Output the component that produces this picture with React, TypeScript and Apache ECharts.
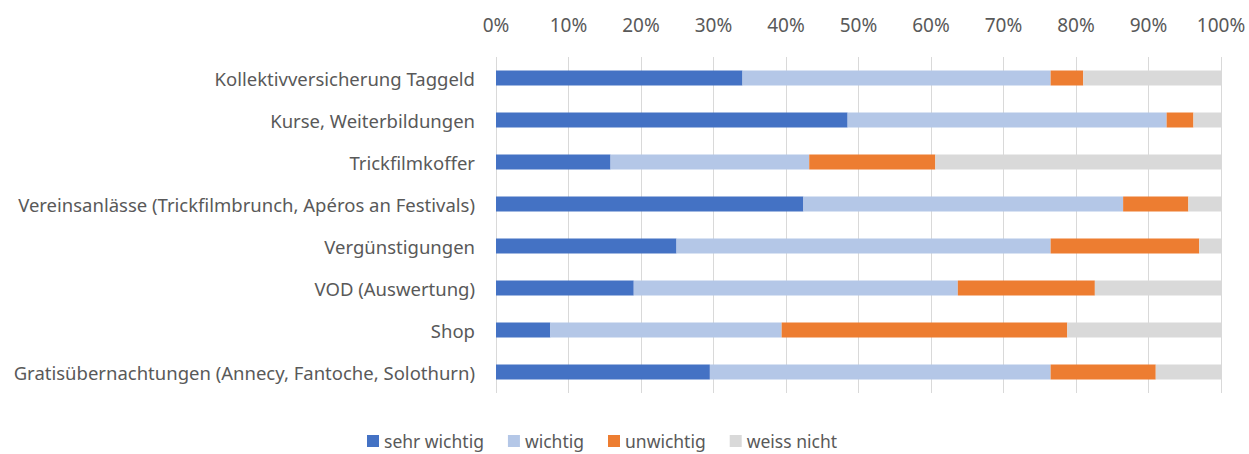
import React, { useEffect, useRef } from "react";
import * as echarts from "echarts";

const categories = [
  "Kollektivversicherung Taggeld",
  "Kurse, Weiterbildungen",
  "Trickfilmkoffer",
  "Vereinsanlässe (Trickfilmbrunch, Apéros an Festivals)",
  "Vergünstigungen",
  "VOD (Auswertung)",
  "Shop",
  "Gratisübernachtungen (Annecy, Fantoche, Solothurn)",
];
const sehrWichtig = [34.0, 48.5, 15.8, 42.4, 24.9, 19.0, 7.5, 29.5];
const wichtig = [42.5, 44.0, 27.4, 44.1, 51.6, 44.7, 31.9, 47.0];
const unwichtig = [4.5, 3.7, 17.4, 9.0, 20.5, 18.9, 39.4, 14.5];
const weissNicht = [19.0, 3.8, 39.4, 4.5, 3.0, 17.4, 21.2, 9.0];
const seriesNames = ["sehr wichtig", "wichtig", "unwichtig", "weiss nicht"];
const colors = ["#4472C4", "#B4C7E7", "#ED7D31", "#D9D9D9"];

const FONT = "Noto Sans";
const TEXT = "#595959";

export default function App() {
  const ref = useRef<HTMLDivElement>(null);
  useEffect(() => {
    document.body.style.margin = "0";
    const chart = echarts.init(ref.current!, null, { renderer: "svg" });
    const data = [sehrWichtig, wichtig, unwichtig, weissNicht];
    chart.setOption({
      animation: false,
      textStyle: { fontFamily: FONT },
      grid: { left: 496, right: 28, top: 57, bottom: 61, containLabel: false },
      legend: {
        left: 362,
        bottom: -1,
        itemWidth: 12,
        itemHeight: 12,
        itemGap: 24,
        icon: "rect",
        textStyle: { color: TEXT, fontSize: 17.5, fontFamily: FONT },
        data: seriesNames,
      },
      xAxis: {
        type: "value",
        position: "top",
        min: 0,
        max: 100,
        interval: 10,
        axisLine: { show: false },
        axisTick: { show: false },
        axisLabel: {
          color: TEXT,
          fontSize: 19,
          fontFamily: FONT,
          margin: 23,
          formatter: (v: number) => v + "%",
        },
        splitLine: { show: true, lineStyle: { color: "#D9D9D9", width: 1 } },
      },
      yAxis: {
        type: "category",
        inverse: true,
        data: categories,
        axisLine: { show: false },
        axisTick: { show: false },
        axisLabel: { color: TEXT, fontSize: 18.5, fontFamily: FONT, margin: 21 },
      },
      series: seriesNames.map((name, i) => ({
        name,
        type: "bar",
        stack: "total",
        barWidth: 15,
        itemStyle: { color: colors[i] },
        data: data[i],
      })),
    });
    return () => chart.dispose();
  }, []);
  return <div ref={ref} style={{ width: 1249, height: 454 }} />;
}
